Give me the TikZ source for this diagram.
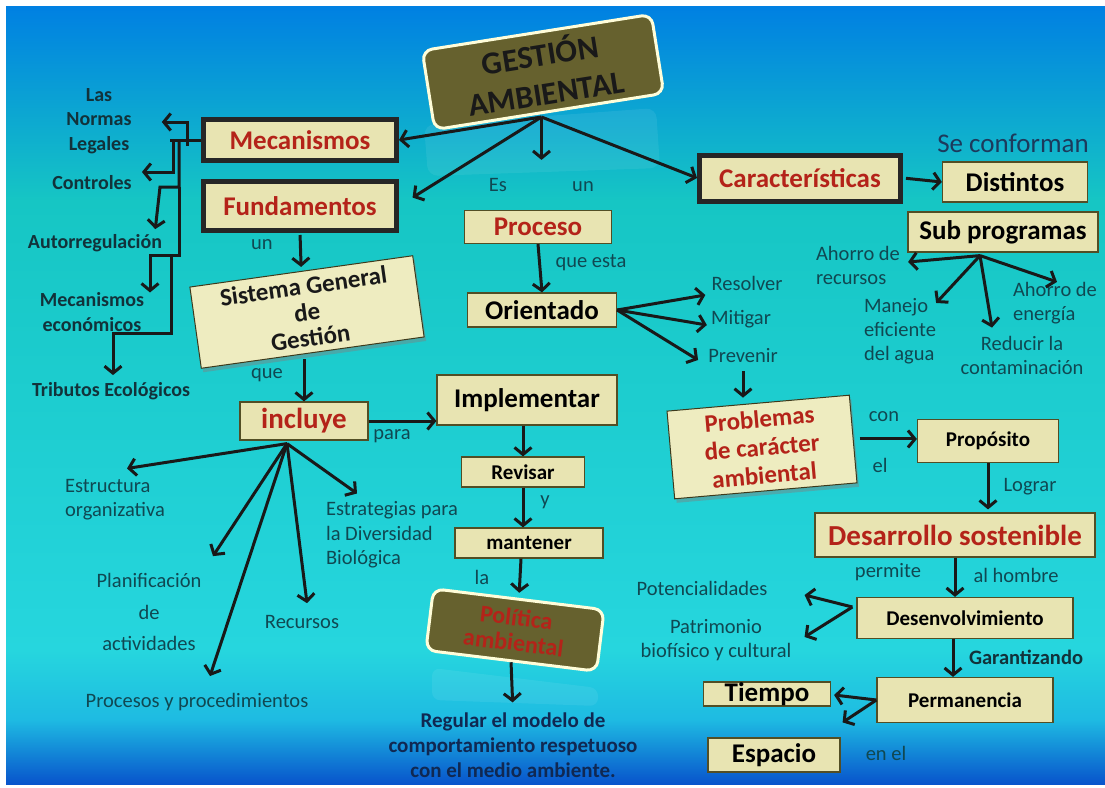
\documentclass[tikz,border=0pt]{standalone}
\usepackage{fontspec}
\setmainfont{Carlito}
\usetikzlibrary{arrows.meta, positioning, calc, shadows}

\definecolor{cream}{RGB}{232,228,178}
\definecolor{paleyellow}{RGB}{238,236,192}
\definecolor{oliva}{RGB}{102,97,46}
\definecolor{redtext}{RGB}{180,35,25}
\definecolor{labeltext}{RGB}{16,72,82}
\definecolor{darklabel}{RGB}{18,50,58}
\definecolor{navytext}{RGB}{16,40,82}
\definecolor{slatetext}{RGB}{28,58,92}
\definecolor{skytop}{RGB}{0,128,226}
\definecolor{teal1}{RGB}{22,198,196}
\definecolor{teal2}{RGB}{38,214,222}
\definecolor{teal3}{RGB}{30,186,226}
\definecolor{deepblue}{RGB}{8,84,204}

\begin{document}
\begin{tikzpicture}[
    x=1pt, y=-1pt,
    every node/.style={font=\fontsize{20.5}{24}\selectfont},
    box/.style={
        rectangle,
        fill=cream,
        draw=oliva!80!black,
        line width=1.2pt,
        inner sep=0pt,
        align=center,
        font=\fontsize{21}{24}\selectfont\bfseries
    },
    bigbox/.style={
        box,
        font=\fontsize{27}{30}\selectfont\bfseries
    },
    framedbox/.style={
        bigbox,
        draw=black!85,
        line width=5pt,
        text=redtext
    },
    signbox/.style={
        rectangle,
        rounded corners=10pt,
        fill=oliva,
        draw=white!85!yellow,
        line width=3pt,
        inner sep=0pt,
        align=center
    },
    tiltbox/.style={
        rectangle,
        fill=paleyellow,
        draw=oliva!60!black,
        line width=1pt,
        inner sep=0pt,
        align=center,
        drop shadow={opacity=0.45, shadow xshift=2pt, shadow yshift=-4pt}
    },
    lbl/.style={
        text=labeltext,
        align=center,
        inner sep=0pt
    },
    lblb/.style={
        lbl,
        text=darklabel,
        font=\fontsize{20}{24.5}\selectfont\bfseries
    },
    arrow/.style={
        line width=3pt,
        draw=black!90,
        -{Straight Barb[length=7pt, width=17pt]}
    }
]

% Background
\fill[white] (0,0) rectangle (1105,787);
\shade[top color=skytop, bottom color=teal1] (6,6) rectangle (1105,201);
\shade[top color=teal1, bottom color=teal2] (6,200) rectangle (1105,651);
\shade[top color=teal2, bottom color=teal3] (6,650) rectangle (1105,721);
\shade[top color=teal3, bottom color=deepblue] (6,720) rectangle (1105,784);

% Reflections
\fill[white, opacity=0.07, rounded corners=10pt] (424,125) -- (656,108) -- (660,168) -- (428,176) -- cycle;
\fill[white, opacity=0.07, rounded corners=8pt] (432,668) -- (598,688) -- (598,706) -- (432,700) -- cycle;

% Title
\node[signbox, rotate=9, minimum width=232pt, minimum height=80pt,
      text=black!90, font=\fontsize{32}{39}\selectfont\bfseries] (gest) at (543,72) {GESTIÓN\\AMBIENTAL};
\coordinate (gb) at ($(gest.south)+(-8,4)$);

% Main branches
\node[framedbox, minimum width=193pt, minimum height=41pt] (meca) at (300,140) {Mecanismos};
\node[framedbox, minimum width=193pt, minimum height=49pt] (fund) at (300,206) {Fundamentos};
\node[framedbox, minimum width=201pt, minimum height=46pt] (car) at (800,178) {Características};
\node[bigbox, text=redtext, minimum width=147pt, minimum height=33pt] (proc) at (538,227) {Proceso};

% Caracteristicas
\node[lbl, text=slatetext, font=\fontsize{27}{30}\selectfont] (conf) at (1013,143) {Se conforman};
\node[bigbox, minimum width=145pt, minimum height=40pt] (dist) at (1015,182) {Distintos};
\node[bigbox, minimum width=190pt, minimum height=40pt] (sub) at (1003,232) {Sub programas};
\node[lbl, align=left] (ahr) at (858,265) {Ahorro de\\recursos};
\node[lbl, align=left] (man) at (900,331) {Manejo\\eficiente\\del agua};
\node[lbl, align=left] (ene) at (1055,303) {Ahorro de\\energía};
\node[lbl] (red) at (1022,355) {Reducir la\\contaminación};

% Proceso
\node[lbl] (es) at (498,185) {Es};
\node[lbl] (un) at (583,187) {un};
\node[lbl] (qesta) at (591,263) {que esta};
\node[bigbox, minimum width=149pt, minimum height=34pt] (ori) at (542,310) {Orientado};
\node[lbl] (res) at (747,283) {Resolver};
\node[lbl] (mit) at (741,319) {Mitigar};
\node[lbl] (pre) at (743,356) {Prevenir};
\node[tiltbox, rotate=5, minimum width=183pt, minimum height=88pt, text=redtext,
      font=\fontsize{25}{28}\selectfont\bfseries] (prob) at (762,447) {Problemas\\de carácter\\ambiental};
\node[lbl] (con) at (884,417) {con};
\node[lbl] (el) at (880,465) {el};
\node[box, minimum width=141pt, minimum height=43pt] (prop) at (988,441) {Propósito};
\node[lbl] (lograr) at (1030,487) {Lograr};
\node[bigbox, text=redtext, font=\fontsize{29}{32}\selectfont\bfseries,
      minimum width=280pt, minimum height=44pt] (des) at (955,535) {Desarrollo sostenible};
\node[lbl] (perm1) at (888,572) {permite};
\node[lbl] (hom) at (1016,575) {al hombre};
\node[box, minimum width=216pt, minimum height=41pt] (desv) at (965,618) {Desenvolvimiento};
\node[lbl] (pot) at (702,588) {Potencialidades};
\node[lbl] (pat) at (716,640) {Patrimonio\\biofísico y cultural};
\node[lbl, text=darklabel, font=\fontsize{20.5}{24}\selectfont\bfseries] (gar) at (1026,657) {Garantizando};
\node[box, minimum width=176pt, minimum height=45pt] (perm) at (965,700) {Permanencia};
\node[bigbox, minimum width=127pt, minimum height=24pt] (tiem) at (767,694) {Tiempo};
\node[bigbox, minimum width=132pt, minimum height=34pt] (esp) at (774,755) {Espacio};
\node[lbl] (enel) at (886,753) {en el};

% Mecanismos
\node[lblb] (nor) at (99,121) {Las\\Normas\\Legales};
\node[lblb] (ctl) at (92,183) {Controles};
\node[lblb] (aut) at (95,243) {Autorregulación};
\node[lblb] (eco) at (92,312) {Mecanismos\\económicos};
\node[lblb] (tri) at (111,391) {Tributos Ecológicos};

% Fundamentos
\node[lbl] (un2) at (262,245) {un};
\node[tiltbox, rotate=8, minimum width=225pt, minimum height=82pt, text=black!90,
      font=\fontsize{25}{26}\selectfont\bfseries] (sist) at (307,312) {Sistema General\\de\\Gestión};
\node[lbl] (que) at (267,375) {que};
\node[box, text=redtext, font=\fontsize{29}{30}\selectfont\bfseries,
      minimum width=128pt, minimum height=38pt] (incl) at (304,421) {incluye};
\node[lbl] (para) at (392,436) {para};
\node[lbl, align=left] (estr) at (115,500) {Estructura\\organizativa};
\node[lbl, font=\fontsize{20.5}{31.5}\selectfont] (plan) at (149,612) {Planificación\\de\\actividades};
\node[lbl] (procs) at (197,702) {Procesos y procedimientos};
\node[lbl] (recu) at (302,622) {Recursos};
\node[lbl, align=left, font=\fontsize{20.5}{24.5}\selectfont] (estra) at (392,535) {Estrategias para\\la Diversidad\\Biológica};
\node[bigbox, minimum width=180pt, minimum height=50pt] (impl) at (527,400) {Implementar};
\node[box, minimum width=123pt, minimum height=30pt] (rev) at (523,472) {Revisar};
\node[lbl] (y) at (545,502) {y};
\node[box, minimum width=148pt, minimum height=30pt] (mant) at (529,543) {mantener};
\node[lbl] (la) at (482,577) {la};
\node[signbox, rotate=-7, minimum width=172pt, minimum height=62pt,
      text=redtext, font=\fontsize{24}{25}\selectfont\bfseries] (pol) at (515,630) {Política\\ambiental};
\node[lbl, text=navytext, font=\fontsize{21}{25}\selectfont\bfseries] (reg) at (513,745)
    {Regular el modelo de\\comportamiento respetuoso\\con el medio ambiente.};

% Title arrows
\draw[arrow] (gb) -- (meca.east);
\draw[arrow, shorten >=16pt] (gb) -- (fund.east);
\draw[arrow, shorten >=50pt] (gb) -- (gb |- proc.north);
\draw[arrow] (gb) -- (car.west);

% Mecanismos stairs
\draw[line width=3pt, draw=black!90] (meca.west) -- (170,140);
\draw[arrow] (187,146) -- (187,122) -- ($(nor.east)+(30,1)$);
\draw[arrow] (173,140) -- (173,172) -- ($(ctl.east)+(10,-11)$);
\draw[arrow] (179,140) -- (179,187) -- (160,187) -- ($(aut.north east)+(-7,-5)$);
\draw[arrow] (179,187) -- (179,255) -- (150,255) -- ($(eco.north)+(58,0)$);
\draw[arrow] (171,255) -- (171,333) -- (113,333) -- ($(tri.north)+(2,-7)$);

% Caracteristicas arrows
\draw[arrow, shorten <=3pt] (car.east) -- (dist.west);
\coordinate (sb) at ($(sub.south)+(-23,3)$);
\draw[arrow] (sb) -- ($(ahr.east)+(8,-3)$);
\draw[arrow] (sb) -- ($(man.north east)+(0,5)$);
\draw[arrow] (sb) -- ($(red.north)+(-30,-8)$);
\draw[arrow] (sb) -- ($(ene.north)+(2,0)$);

% Proceso arrows
\draw[arrow] (proc.south) -- (ori.north);
\draw[arrow] (ori.east) -- ($(res.west)+(-6,12)$);
\draw[arrow] (ori.east) -- ($(mit.west)+(-4,6)$);
\draw[arrow] (ori.east) -- ($(pre.west)+(-10,4)$);
\draw[arrow, shorten <=8pt, shorten >=5pt] (pre.south) -- (pre.south |- prob.north);
\draw[arrow, shorten <=6pt] (prob.east) -- (prob.east -| prop.west);
\draw[arrow, shorten >=3pt] (prop.south) -- (prop.south |- des.north);
\draw[arrow] (des.south) -- (des.south |- desv.north);
\coordinate (dg) at ($(desv.south)+(-12,0)$);
\draw[arrow] (dg) -- (dg |- perm.north);
\coordinate (dw) at ($(desv.west)+(-4,-11)$);
\draw[arrow] (dw) -- ($(pot.east)+(37,7)$);
\draw[arrow] (dw) -- ($(pat.east)+(13,-3)$);
\draw[arrow] (perm.west) -- ($(tiem.east)+(3,1)$);
\draw[arrow] (perm.west) -- ($(esp.north east)+(2,-15)$);

% Fundamentos arrows
\draw[arrow, shorten <=2pt, shorten >=4pt] (fund.south) -- (sist.north);
\draw[arrow, shorten <=6pt] (incl.north |- sist.south) -- (incl.north);
\draw[arrow] (incl.east) -- (incl.east -| impl.west);
\coordinate (ib) at ($(incl.south)+(-17,3)$);
\draw[arrow] (ib) -- ($(estr.north)+(12,-11)$);
\draw[arrow] (ib) -- ($(plan.north)+(64,-17)$);
\draw[arrow] (ib) -- ($(procs.north)+(13,-17)$);
\draw[arrow] (ib) -- ($(recu.north)+(5,-12)$);
\draw[arrow] (ib) -- ($(estra.north)+(-35,-8)$);
\draw[arrow] (rev.north |- impl.south) -- (rev.north);
\draw[arrow] (rev.south) -- (rev.south |- mant.north);
\draw[arrow, shorten >=5pt] ($(mant.south)+(-8,0)$) -- (pol.north);
\draw[arrow, shorten >=10pt] (pol.south) -- (reg.north);

\end{tikzpicture}
\end{document}
